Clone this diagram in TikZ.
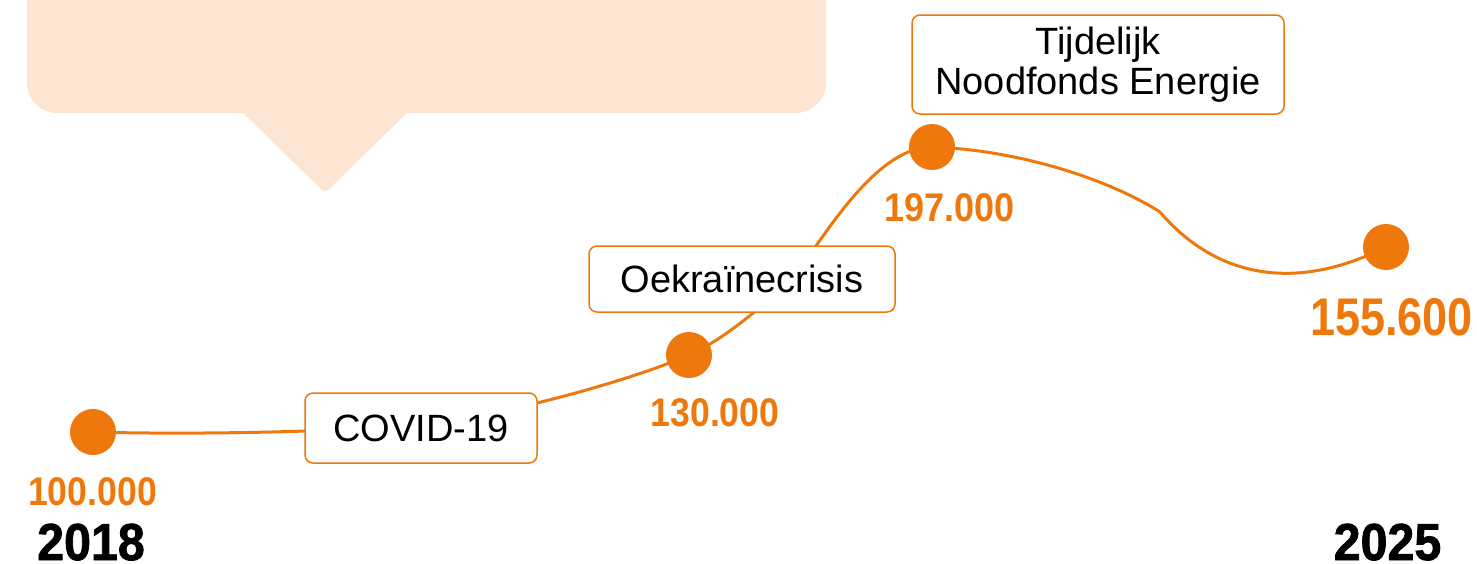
\documentclass[tikz,border=0pt]{standalone}
\usepackage{fontspec}
\setmainfont{Liberation Sans}
\newfontfamily\numfont{Liberation Sans Bold}
\newfontfamily\yearfont{Liberation Sans Bold}[FakeBold=1.5]
\usetikzlibrary{backgrounds}
\definecolor{ora}{RGB}{239,120,13}
\definecolor{peach}{RGB}{253,229,212}
\newcommand\condtext[2]{\scalebox{#1}[1]{#2}}
\begin{document}
\begin{tikzpicture}[x=1pt,y=-1pt,
  dot/.style={circle,fill=ora,minimum size=46pt,inner sep=0pt},
  lbl/.style={draw=ora,line width=1.5pt,fill=white,rounded corners=8pt,inner sep=0pt,font=\fontsize{38}{40}\selectfont,align=center},
  conn/.style={draw=ora,line width=3pt},
  num/.style={text=ora,anchor=base,inner sep=0pt,font=\numfont\fontsize{40}{40}\selectfont},
  bignum/.style={text=ora,anchor=base,inner sep=0pt,font=\numfont\fontsize{53}{53}\selectfont},
  yr/.style={text=black,anchor=base,inner sep=0pt,font=\yearfont\fontsize{52}{52}\selectfont}]
\useasboundingbox (0,0) rectangle (1477,563);
% speech bubble
\fill[peach, rounded corners=30pt] (27,-40) rectangle (826,113);
\fill[peach, rounded corners=6pt] (240,110) -- (325,193) -- (410,110) -- (325,27) -- cycle;
% dots
\node[dot] (d1) at (93,432) {};
\node[dot] (d2) at (689,355) {};
\node[dot] (d3) at (932,147) {};
\node[dot] (d4) at (1386,247) {};
% label boxes
\node[lbl, minimum width=232pt, minimum height=70pt] (cov) at (421,428) {COVID-19};
\node[lbl, minimum width=306pt, minimum height=66pt] (oek) at (742,279) {Oekraïnecrisis};
\node[lbl, minimum width=372pt, minimum height=99pt] (tnf) at (1098,64.5) {Tijdelijk\\Noodfonds Energie};
% helper coordinates
\coordinate (c1) at (305,431);
\coordinate (c2) at (537,403);
\coordinate (m1) at (790,280);
\coordinate (k1) at (1160,212);
% connectors
\begin{scope}[on background layer]
\draw[conn] (d1.center) .. controls (160,434) and (250,433) .. (c1);
\draw[conn] (c2) .. controls (590,390) and (650,372) .. (d2.center);
\draw[conn] (d2.center) .. controls (720,342) and (765,305) .. (m1);
\draw[conn] (m1) .. controls (815,255) and (870,147) .. (d3.center);
\draw[conn] (d3.center) .. controls (1020,150) and (1110,180) .. (k1);
\draw[conn] (k1) .. controls (1205,265) and (1280,300) .. (d4.center);
\end{scope}
% numbers
\node[num] (n1) at (92.5,505) {\condtext{0.89}{100.000}};
\node[num] (n2) at (715,426) {\condtext{0.89}{130.000}};
\node[num] (n3) at (949.5,221) {\condtext{0.9}{197.000}};
\node[bignum] (n4) at (1391.5,335) {\condtext{0.85}{155.600}};
% years
\node[yr] (y1) at (91,560) {\condtext{0.93}{2018}};
\node[yr] (y2) at (1387.5,560) {\condtext{0.93}{2025}};
\end{tikzpicture}
\end{document}
